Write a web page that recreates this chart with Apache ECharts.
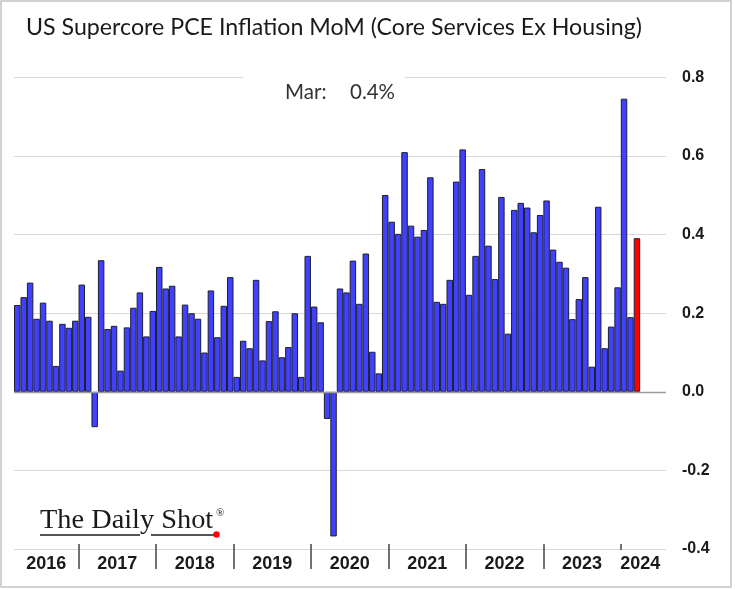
<!DOCTYPE html>
<html><head><meta charset="utf-8">
<script src="https://cdn.jsdelivr.net/npm/echarts@6/dist/echarts.min.js"></script>
<style>html,body{margin:0;padding:0;background:#fff}#c{width:735px;height:590px}</style>
</head><body><div id="c"></div>
<script>
const titleText = 'US Supercore PCE Inflation MoM (Core Services Ex Housing)';
const monthNames = ['Jan','Feb','Mar','Apr','May','Jun','Jul','Aug','Sep','Oct','Nov','Dec'];
const startYear = 2016, startMonth = 3;   // first bar: Mar 2016
const axisMonths = 101;                   // Mar 2016 .. Jul 2024 on the axis
const years = ['2016','2017','2018','2019','2020','2021','2022','2023','2024'];
const values = [
  0.221,0.241,0.278,0.186,0.227,0.181,0.066,0.173,0.163,0.181,
  0.273,0.191,-0.090,0.335,0.160,0.168,0.054,0.164,0.214,0.253,0.141,0.206,0.318,0.263,
  0.270,0.141,0.222,0.200,0.186,0.100,0.258,0.139,0.219,0.292,0.038,0.130,
  0.111,0.285,0.080,0.180,0.205,0.088,0.114,0.200,0.038,0.346,0.217,0.177,
  -0.069,-0.368,0.263,0.253,0.334,0.224,0.352,0.102,0.047,0.501,0.433,0.402,
  0.610,0.423,0.395,0.412,0.546,0.229,0.224,0.285,0.535,0.617,0.247,0.346,
  0.567,0.372,0.287,0.496,0.148,0.463,0.481,0.469,0.406,0.450,0.487,0.362,
  0.331,0.316,0.185,0.236,0.292,0.064,0.471,0.111,0.166,0.266,0.746,0.190,
  0.391
];
const yMin = -0.4, yMax = 0.8, yStep = 0.2;

// month categories (bars) and month boundaries (ticks/labels)
const monthCats = [];
for (let i = 0; i < axisMonths; i++) {
  const m = (startMonth - 1 + i) % 12, y = startYear + Math.floor((startMonth - 1 + i) / 12);
  monthCats.push(y + '-' + monthNames[m]);
}
const boundaries = [];
for (let k = 0; k <= axisMonths; k++) boundaries.push(String(k));
const isJan = k => (startMonth - 1 + k) % 12 === 0;
const lastJan = (() => { let j = 0; for (let k = 0; k <= values.length; k++) if (isJan(k)) j = k; return j; })();
// year label positions: middle of each year's span on the axis
const yearLabelAt = {};
years.forEach(yr => {
  const ks = [];
  for (let i = 0; i < axisMonths; i++) if (monthCats[i].startsWith(yr)) ks.push(i);
  const mid = Math.floor((ks[0] + ks[ks.length - 1] + 1) / 2);
  yearLabelAt[mid] = yr;
});

const lastIdx = values.length - 1;
const barData = values.map((v, i) => i === lastIdx
  ? { value: v, itemStyle: { color: '#ff0000' } } : v);
const lastMonth = monthCats[lastIdx].split('-')[1];

const chart = echarts.init(document.getElementById('c'), null, { renderer: 'canvas' });
chart.setOption({
  animation: false,
  backgroundColor: '#ffffff',
  title: {
    text: titleText, left: 21, top: 11,
    textStyle: { fontFamily: 'Lato', fontSize: 23.2, fontWeight: 'normal', color: '#1a1a1a' }
  },
  grid: { left: 14, right: 69, top: 77.5, bottom: 41, containLabel: false },
  xAxis: [
    { type: 'category', data: monthCats, position: 'bottom', boundaryGap: true,
      axisLine: { show: false }, axisTick: { show: false }, axisLabel: { show: false } },
    { type: 'category', data: boundaries, position: 'bottom', boundaryGap: false, offset: -5,
      axisLine: { show: false },
      axisTick: { show: true, length: 25, interval: (k) => isJan(k) && k !== lastJan,
        lineStyle: { color: '#444', width: 1.5 } },
      axisLabel: { show: true, interval: (k) => yearLabelAt[k] !== undefined,
        formatter: (v, k) => yearLabelAt[k] || '', margin: 11,
        fontFamily: 'Liberation Sans', fontWeight: 'bold', fontSize: 18, color: '#1a1a1a' } },
    { type: 'category', data: boundaries, position: 'bottom', boundaryGap: false, offset: -5,
      axisLine: { show: false },
      axisTick: { show: true, length: 6, inside: false, interval: (k) => k === lastJan,
        lineStyle: { color: '#444', width: 1.5 } },
      axisLabel: { show: false } }
  ],
  yAxis: {
    type: 'value', position: 'right', min: yMin, max: yMax, interval: yStep,
    axisLine: { show: false }, axisTick: { show: false },
    splitLine: { show: true, lineStyle: { color: '#d9d9d9', width: 1 } },
    axisLabel: { margin: 16, fontFamily: 'Liberation Sans', fontWeight: 'bold', fontSize: 16, color: '#1a1a1a',
      formatter: v => Math.abs(v) < 1e-9 ? '0.0' : v.toFixed(1) }
  },
  series: [{
    type: 'bar', xAxisIndex: 0, data: barData, barWidth: '100%', barCategoryGap: '0%',
    itemStyle: { color: '#4040ff', borderColor: '#1e1e2e', borderWidth: 1 },
    markLine: { silent: true, symbol: ['none', 'none'], label: { show: false },
      lineStyle: { color: '#9a9a9a', width: 1.3, type: 'solid' }, data: [{ yAxis: 0 }] }
  }],
  graphic: [
    { type: 'rect', shape: { x: 1, y: 1, width: 730, height: 586 },
      style: { fill: 'none', stroke: '#c4c4c4', lineWidth: 1.5 }, z: 100, silent: true },
    { type: 'rect', shape: { x: 243, y: 68, width: 162, height: 40 }, style: { fill: '#ffffff' }, z: 50 },
    { type: 'text', x: 285, y: 92, z: 51,
      style: { text: lastMonth + ':', font: '20.5px Lato', fill: '#333333', verticalAlign: 'middle' } },
    { type: 'text', x: 350, y: 92, z: 51,
      style: { text: values[lastIdx].toFixed(1) + '%', font: '20.5px Lato', fill: '#333333', verticalAlign: 'middle' } },
    { type: 'text', x: 40, y: 520.5, z: 51, scaleX: 1.05,
      style: { text: 'The Daily Shot', font: '27px "Liberation Serif"', fill: '#1a1a1a', verticalAlign: 'middle' } },
    { type: 'text', x: 216, y: 513, z: 51,
      style: { text: '®', font: '11px "Liberation Serif"', fill: '#1a1a1a', verticalAlign: 'middle' } },
    { type: 'line', shape: { x1: 40, y1: 535, x2: 140, y2: 535 }, style: { stroke: '#1a1a1a', lineWidth: 1.5 }, z: 51 },
    { type: 'line', shape: { x1: 151, y1: 535, x2: 214, y2: 535 }, style: { stroke: '#1a1a1a', lineWidth: 1.5 }, z: 51 },
    { type: 'circle', shape: { cx: 216.5, cy: 534.5, r: 3.2 }, style: { fill: '#ff0000' }, z: 52 }
  ]
});
</script></body></html>
